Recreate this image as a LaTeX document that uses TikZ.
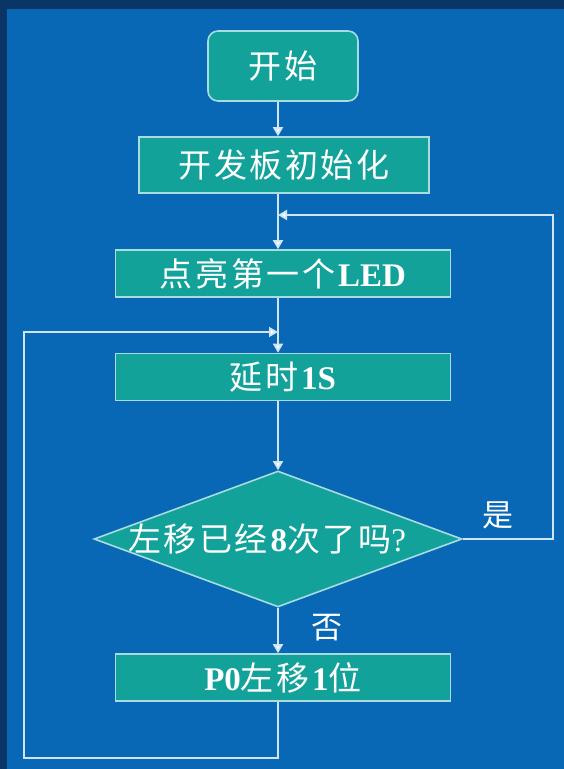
\documentclass[tikz,border=0pt]{standalone}
\usepackage{fontspec}
\setmainfont{Liberation Serif}
\newfontfamily\cjk[LetterSpace=8]{Noto Sans CJK SC}
\usetikzlibrary{arrows.meta,shapes.geometric}
\definecolor{navy}{HTML}{0B3564}
\definecolor{bgblue}{HTML}{0868B5}
\definecolor{tealfill}{HTML}{12A29A}
\definecolor{boxline}{HTML}{A8DCE0}
\definecolor{wire}{HTML}{CFE6F2}
\begin{document}
\begin{tikzpicture}[x=1pt,y=-1pt,
  box/.style={draw=boxline, line width=1.6pt, fill=tealfill, text=white, inner sep=0pt,
    font=\fontsize{33}{35}\selectfont},
  procbox/.style={box, rectangle, minimum width=335pt, minimum height=47pt},
  decbox/.style={box, diamond, minimum width=368pt, minimum height=136pt},
  conn/.style={draw=wire, line width=1.8pt},
  arr/.style={conn, -{Triangle[width=10pt,length=9pt,fill=white]}},
  lbl/.style={text=white, inner sep=0pt, font=\cjk\fontsize{31}{33}\selectfont}]
\useasboundingbox (0,0) rectangle (564,769);
\fill[navy] (0,0) rectangle (564,769);
\fill[bgblue] (7,9) rectangle (564,769);
\coordinate (sp) at (278,0);
% nodes
\node[box, rectangle, rounded corners=10pt, minimum width=150pt, minimum height=70pt] (start) at (283,66) {\cjk 开始};
\node[box, rectangle, minimum width=290pt, minimum height=56pt] (init) at (284,165) {\cjk 开发板初始化};
\node[procbox] (led) at (283,273.5) {{\cjk 点亮第一个}\textbf{LED}};
\node[procbox] (delay) at (283,377) {{\cjk 延时}\textbf{1S}};
\node[decbox] (dec) at (278,539) {\makebox[0pt]{{\cjk 左移已经}\textbf{8}{\cjk 次了吗}?\hspace{22pt}}};
\node[procbox] (p0) at (283,677.5) {\textbf{P0}{\cjk 左移}\textbf{1}{\cjk 位}};
\node[lbl] (yes) at (498,515) {是};
\node[lbl] (no) at (327,628) {否};
% loop coordinates
\coordinate (yr) at (553,215);
\coordinate (yin) at (278,215);
\coordinate (nb) at (24,758);
\coordinate (nin) at (278,332);
% connectors
\draw[arr] (start.south -| sp) -- (init.north -| sp);
\draw[arr] (init.south -| sp) -- (led.north -| sp);
\draw[arr] (led.south -| sp) -- (delay.north -| sp);
\draw[arr] (delay.south -| sp) -- (dec.north);
\draw[arr] (dec.south) -- (p0.north -| sp);
\draw[arr] (dec.east) -| (yr) -- (yin);
\draw[arr] (p0.south -| sp) |- (nb) |- (nin);
\end{tikzpicture}
\end{document}
